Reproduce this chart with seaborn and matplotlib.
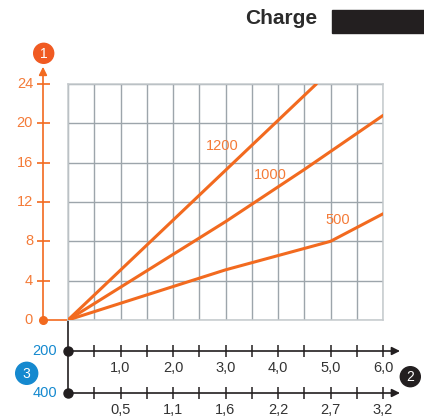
import numpy as np
import pandas as pd
import matplotlib
matplotlib.use("Agg")
import matplotlib.pyplot as plt
import seaborn as sns

# donnees
x_1200 = [0.0, 4.73]
y_1200 = [0.0, 24.0]
x_1000 = [0.0, 3.0, 4.5, 6.0]
y_1000 = [0.0, 10.0, 15.3, 20.8]
x_500 = [0.0, 3.0, 5.0, 6.0]
y_500 = [0.0, 5.1, 8.0, 10.8]

y_ticks = [0, 4, 8, 12, 16, 20, 24]
x_ticks = [0.5, 1.0, 1.5, 2.0, 2.5, 3.0, 3.5, 4.0, 4.5, 5.0, 5.5, 6.0]
lab_pos = [1, 2, 3, 4, 5, 6]
lab_axe1 = ["1,0", "2,0", "3,0", "4,0", "5,0", "6,0"]
lab_axe2 = ["0,5", "1,1", "1,6", "2,2", "2,7", "3,2"]

df = pd.concat([
    pd.DataFrame({"x": x_1200, "y": y_1200, "serie": "1200"}),
    pd.DataFrame({"x": x_1000, "y": y_1000, "serie": "1000"}),
    pd.DataFrame({"x": x_500, "y": y_500, "serie": "500"}),
])

sns.set_style("white")
plt.rcParams['font.family'] = ['Liberation Sans', 'DejaVu Sans']

ORANGE = "#f26a1f"
ORANGE_TXT = "#f47b38"
BLEU = "#1589cf"
GRIS = "#9da5ab"
NOIR = "#231f20"

fig = plt.figure(figsize=(4.24, 4.18), dpi=100)
ax = fig.add_axes([68/424, (418-320)/418, (383-68)/424, (320-84)/418])

sns.lineplot(data=df, x="x", y="y", hue="serie", sort=False, estimator=None,
             palette=[ORANGE]*3, lw=2.2, legend=False, ax=ax, zorder=5)

ax.set_xlim(0, 6)
ax.set_ylim(0, 24)
ax.set_xticks(np.arange(0, 6.01, 0.5))
ax.set_yticks(y_ticks)
ax.grid(True, color=GRIS, lw=1.0)
ax.tick_params(length=0, labelbottom=False, labelleft=False)
ax.set_xlabel("")
ax.set_ylabel("")
for s in ax.spines.values():
    s.set_color("#c5cacd")
    s.set_linewidth(1.1)

# etiquettes des courbes
ax.text(2.93, 17.7, "1200", color=ORANGE_TXT, fontsize=10.5, ha="center", va="center")
ax.text(3.85, 14.7, "1000", color=ORANGE_TXT, fontsize=10.5, ha="center", va="center")
ax.text(5.13, 10.2, "500", color=ORANGE_TXT, fontsize=10.5, ha="center", va="center")

# axe vertical orange
xa = (43-68)/52.5
ax.annotate("", xy=(xa, 25.75), xytext=(xa, 0), annotation_clip=False,
            arrowprops=dict(arrowstyle="-|>", color=ORANGE, lw=1.2, mutation_scale=12, shrinkA=0, shrinkB=0))
ax.plot([xa, 0], [0, 0], color=ORANGE, lw=1.2, clip_on=False)
ax.plot([xa], [0], "o", color=ORANGE, ms=5.5, clip_on=False)
ax.hlines(y_ticks[1:], (37-68)/52.5, (50-68)/52.5, color=ORANGE, lw=1.2, clip_on=False)
for v in y_ticks:
    ax.text((33-68)/52.5, v, str(v), color=ORANGE_TXT, fontsize=10.5, ha="right", va="center")

# axes horizontaux noirs
y1 = (320-351)/9.833
y2 = (320-393)/9.833
ax.plot([0, 0], [0, y2], color=NOIR, lw=1.2, clip_on=False)
for yy in (y1, y2):
    ax.annotate("", xy=((400-68)/52.5, yy), xytext=(0, yy), annotation_clip=False,
                arrowprops=dict(arrowstyle="-|>", color=NOIR, lw=1.2, mutation_scale=12, shrinkA=0, shrinkB=0))
    ax.plot([0], [yy], "o", color=NOIR, ms=6.5, clip_on=False)
    ax.vlines(x_ticks, yy-0.61, yy+0.61, color=NOIR, lw=1.1, clip_on=False)
for p, t1, t2 in zip(lab_pos, lab_axe1, lab_axe2):
    ax.text(p, (320-368)/9.833, t1, color="#333333", fontsize=10.5, ha="center", va="center")
    ax.text(p, (320-410)/9.833, t2, color="#333333", fontsize=10.5, ha="center", va="center")
ax.text((57-68)/52.5, y1, "200", color=BLEU, fontsize=10.5, ha="right", va="center")
ax.text((57-68)/52.5, y2, "400", color=BLEU, fontsize=10.5, ha="right", va="center")

# decor : titre, pastilles numerotees
deco = fig.add_axes([0, 0, 1, 1], zorder=-1)
deco.set_xlim(0, 424)
deco.set_ylim(418, 0)
deco.axis("off")
deco.text(281, 18, "Charge", fontsize=15, fontweight="bold", color="#2b2b2b", ha="center", va="center")
deco.add_patch(plt.Rectangle((332, 10), 92, 23, color=NOIR))
for cx, cy, r, c, t in [(43.7, 53.3, 10, "#f05a22", "1"), (26.7, 373.3, 11, BLEU, "3"), (410.3, 376.7, 10, NOIR, "2")]:
    deco.add_patch(plt.Circle((cx, cy), r, color=c))
    deco.text(cx, cy + 0.5, t, color="white", fontsize=10, ha="center", va="center")

fig.savefig("out.png", dpi=100)
